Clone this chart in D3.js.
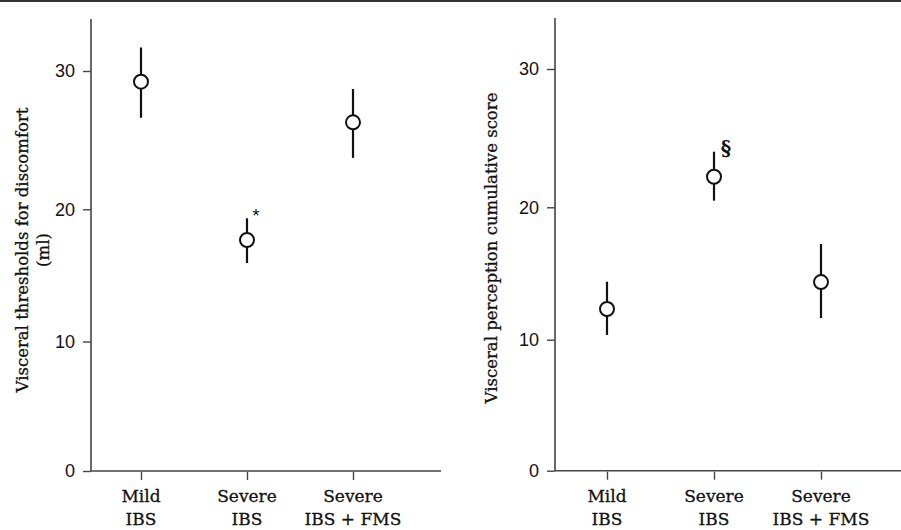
<!DOCTYPE html>
<meta charset="utf-8">
<html lang="en">
<head>
<title>Visceral thresholds and perception</title>
<script src="https://d3js.org/d3.v7.min.js"></script>
<style>
  html, body { margin: 0; padding: 0; background: #fff; }
  .tick-num { font-family: "Liberation Sans", Arial, sans-serif; font-size: 18px; fill: #111; }
  .cat-label { font-family: "DejaVu Serif", serif; font-size: 17px; fill: #111; stroke: #111; stroke-width: 0.3px; }
  .y-title { font-family: "DejaVu Serif", serif; font-size: 16.5px; fill: #111; stroke: #111; stroke-width: 0.3px; }
</style>
</head>
<body>
<div id="chart"></div>
<script>
// groups on the x axis (two text lines each)
const catLine1 = ["Mild", "Severe", "Severe"];
const catLine2 = ["IBS", "IBS", "IBS + FMS"];
const yTicks = [0, 10, 20, 30];

// left panel: visceral thresholds for discomfort (ml)
const threshMean = [29.23, 17.68, 26.29];
const threshLow  = [26.62, 15.94, 23.72];
const threshHigh = [31.7, 19.32, 28.7];

// right panel: visceral perception cumulative score
const percMean = [12.32, 22.21, 14.35];
const percLow  = [10.36, 20.48, 11.63];
const percHigh = [14.38, 24.02, 17.23];

const W = 901, H = 530;
const svg = d3.select("#chart").append("svg")
    .attr("width", W).attr("height", H);

// thin rule across the top
svg.append("line")
    .attr("x1", 0).attr("x2", W).attr("y1", 1).attr("y2", 1)
    .attr("stroke", "#333").attr("stroke-width", 2);

const panels = [
  {
    axisX: 91, axisTop: 19, xEnd: 441,
    xRange: [141, 353],
    yRange: [471, 341.5, 209.3, 71],
    mean: threshMean, low: threshLow, high: threshHigh,
    title: ["Visceral thresholds for discomfort", "(ml)"],
    titleX: [28, 49], titleY: 250,
    mark: { text: "*", idx: 1, dx: 9, y: 222, font: "Liberation Sans", size: 19, weight: "normal" }
  },
  {
    axisX: 555, axisTop: 18, xEnd: 901,
    xRange: [607, 821],
    yRange: [470.7, 339.7, 207.3, 69],
    mean: percMean, low: percLow, high: percHigh,
    title: ["Visceral perception cumulative score"],
    titleX: [497], titleY: 248,
    mark: { text: "§", idx: 1, dx: 12, y: 155, font: "DejaVu Serif", size: 20, weight: "bold" }
  }
];

panels.forEach(function(p) {
  var g = svg.append("g");

  var x = d3.scalePoint().domain(d3.range(catLine1.length)).range(p.xRange);
  var y = d3.scaleLinear().domain(yTicks).range(p.yRange);

  // axis lines
  g.append("line")
      .attr("x1", p.axisX).attr("x2", p.axisX)
      .attr("y1", p.axisTop).attr("y2", y(0))
      .attr("stroke", "#444").attr("stroke-width", 1.6);
  g.append("line")
      .attr("x1", p.axisX).attr("x2", p.xEnd)
      .attr("y1", y(0)).attr("y2", y(0))
      .attr("stroke", "#444").attr("stroke-width", 1.6);

  // y ticks
  var yAxis = g.append("g")
      .attr("transform", "translate(" + p.axisX + ",0)")
      .call(d3.axisLeft(y).tickValues(yTicks).tickSize(8).tickPadding(8).tickSizeOuter(0));
  yAxis.select(".domain").remove();
  yAxis.selectAll(".tick line").attr("stroke", "#444").attr("stroke-width", 1.4);
  yAxis.selectAll(".tick text").attr("class", "tick-num").attr("font-family", null).attr("font-size", null);

  // x ticks (pointing down)
  var xAxis = g.append("g")
      .attr("transform", "translate(0," + (y(0) + 1) + ")")
      .call(d3.axisBottom(x).tickSize(8).tickFormat(""));
  xAxis.select(".domain").remove();
  xAxis.selectAll(".tick line").attr("stroke", "#444").attr("stroke-width", 1.4);

  // category labels
  var lab = g.selectAll(".cat").data(d3.range(catLine1.length)).enter();
  lab.append("text").attr("class", "cat-label")
      .attr("x", function(i) { return x(i); }).attr("y", 502)
      .attr("text-anchor", "middle")
      .text(function(i) { return catLine1[i]; });
  lab.append("text").attr("class", "cat-label")
      .attr("x", function(i) { return x(i); }).attr("y", 525)
      .attr("text-anchor", "middle")
      .text(function(i) { return catLine2[i]; });

  // error bars
  g.selectAll(".err").data(d3.range(p.mean.length)).enter().append("line")
      .attr("x1", function(i) { return x(i); }).attr("x2", function(i) { return x(i); })
      .attr("y1", function(i) { return y(p.low[i]); })
      .attr("y2", function(i) { return y(p.high[i]); })
      .attr("stroke", "#111").attr("stroke-width", 2.2);

  // open circle for the mean
  g.selectAll(".pt").data(d3.range(p.mean.length)).enter().append("circle")
      .attr("cx", function(i) { return x(i); })
      .attr("cy", function(i) { return y(p.mean[i]); })
      .attr("r", 7)
      .attr("fill", "#fff").attr("stroke", "#111").attr("stroke-width", 2);

  // significance mark
  g.append("text")
      .attr("x", x(p.mark.idx) + p.mark.dx).attr("y", p.mark.y)
      .attr("text-anchor", "middle")
      .attr("font-family", p.mark.font).attr("font-size", p.mark.size)
      .attr("font-weight", p.mark.weight).attr("fill", "#111")
      .text(p.mark.text);

  // y title (rotated)
  p.title.forEach(function(t, k) {
    g.append("text").attr("class", "y-title")
        .attr("transform", "translate(" + p.titleX[k] + "," + p.titleY + ")rotate(-90)")
        .attr("text-anchor", "middle")
        .text(t);
  });
});
</script>
</body>
</html>
